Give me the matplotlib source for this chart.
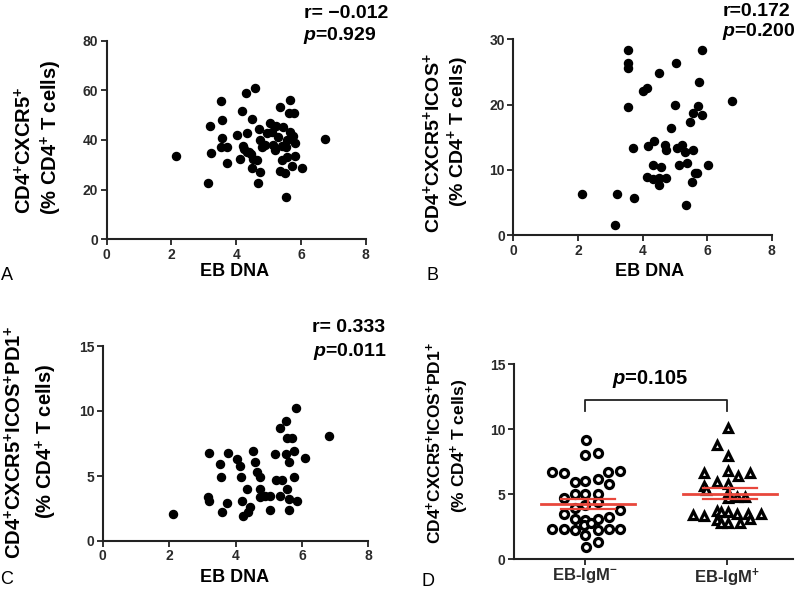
import numpy as np
import matplotlib as mpl
import matplotlib.pyplot as plt

# fonts: bold Arial-like everywhere, mathtext only used for the +/- superscripts and italic p
plt.rcParams['font.family'] = ['Liberation Sans', 'DejaVu Sans']
plt.rcParams['font.weight'] = 'bold'
plt.rcParams['mathtext.fontset'] = 'custom'
plt.rcParams['mathtext.rm'] = 'Liberation Sans:bold'
plt.rcParams['mathtext.bf'] = 'Liberation Sans:bold'
plt.rcParams['mathtext.it'] = 'Liberation Sans:italic:bold'

# ---- data ----
# panel A: CD4+CXCR5+ vs EB DNA
a_x = [2.13, 3.14, 3.19, 3.21, 3.52, 3.55, 3.55, 3.52, 3.72, 3.72, 4.02, 4.17, 4.31, 4.58,
       4.34, 4.20, 4.12, 4.33, 4.45, 4.50, 4.51, 4.49, 4.63, 4.66, 4.69, 4.72, 4.74, 4.79,
       4.94, 5.05, 5.10, 5.15, 5.20, 5.23, 5.30, 5.41, 5.46, 5.36, 5.34, 5.41, 5.51, 5.54,
       5.56, 5.58, 5.54, 5.67, 5.62, 5.80, 5.75, 5.82, 5.72, 5.82, 6.03, 6.75, 5.67, 4.90,
       4.25, 4.40]
a_y = [33.6, 22.6, 45.6, 34.9, 55.7, 48.1, 40.7, 37.3, 37.3, 30.6, 42.0, 51.8, 58.8, 60.8,
       43.0, 37.6, 32.2, 35.3, 34.4, 48.6, 32.2, 28.6, 31.9, 22.6, 44.3, 27.2, 40.0, 37.3,
       42.7, 47.0, 43.4, 38.0, 36.0, 45.6, 41.3, 37.6, 45.1, 53.4, 27.7, 31.9, 26.6, 17.2,
       33.3, 40.0, 37.3, 56.1, 50.7, 50.7, 41.6, 38.7, 29.5, 33.6, 28.6, 40.3, 43.4, 38.0,
       36.5, 35.0]

# panel B: CD4+CXCR5+ICOS+ vs EB DNA
b_x = [3.54, 3.54, 3.55, 5.83, 5.04, 4.52, 5.76, 4.02, 4.15, 3.54, 5.01, 6.76, 5.73, 5.55,
       5.83, 5.47, 4.88, 3.72, 4.18, 4.36, 4.70, 4.73, 5.06, 5.21, 5.32, 5.57, 5.13, 5.37,
       6.04, 4.32, 4.56, 4.15, 4.33, 4.52, 4.73, 4.51, 5.63, 5.70, 5.52, 5.35, 2.12, 3.20,
       3.74, 3.15]
b_y = [28.4, 26.3, 25.6, 28.4, 26.3, 24.8, 23.4, 22.1, 22.6, 19.7, 20.0, 20.5, 19.8, 18.7,
       18.4, 17.3, 16.4, 13.4, 13.7, 14.4, 13.8, 13.1, 13.3, 13.8, 12.8, 13.0, 10.8, 11.0,
       10.7, 10.7, 10.4, 9.0, 8.6, 8.7, 8.8, 7.7, 9.5, 9.6, 8.2, 4.7, 6.3, 6.3,
       5.7, 1.6]

# panel C: CD4+CXCR5+ICOS+PD1+ vs EB DNA
c_x = [2.12, 3.21, 3.18, 3.20, 3.54, 3.56, 3.59, 3.74, 3.76, 4.04, 4.14, 4.16, 4.19, 4.22,
       4.35, 4.37, 4.45, 4.53, 4.60, 4.65, 4.75, 4.75, 4.90, 5.05, 5.05, 5.20, 5.23, 5.35,
       5.40, 5.35, 5.53, 5.83, 5.69, 5.55, 5.53, 5.60, 5.75, 5.75, 5.55, 5.60, 5.60, 5.86,
       6.08, 6.82, 4.75]
c_y = [2.1, 6.8, 3.4, 3.1, 5.9, 4.9, 2.2, 2.9, 6.8, 6.3, 5.8, 4.9, 3.1, 1.9,
       4.0, 2.2, 2.6, 6.9, 6.1, 5.3, 4.9, 3.4, 3.5, 2.4, 3.5, 6.7, 4.7, 3.5,
       4.7, 8.7, 9.2, 10.2, 7.9, 7.9, 6.7, 6.1, 4.9, 6.9, 4.0, 3.2, 2.4, 3.1,
       6.4, 8.1, 4.0]

# panel D: EB-IgM- / EB-IgM+ groups
groups = ['EB-IgM$^{-}$', 'EB-IgM$^{+}$']
igm_neg = [9.2, 8.0, 8.15, 6.7, 6.6, 6.7, 6.8, 5.95, 6.0, 6.2, 5.75, 5.0, 5.0, 5.0, 4.7,
           4.2, 3.95, 4.4, 3.5, 3.75, 3.1, 3.0, 3.1, 3.25, 2.35, 2.3, 2.25, 2.6, 2.75, 2.25,
           2.3, 2.3, 1.85, 1.35, 0.95]
igm_neg_dx = [0.01, 0.0, 0.09, -0.23, -0.15, 0.16, 0.25, -0.07, 0.0, 0.09, 0.17, -0.07, 0.0,
              0.09, -0.15, 0.0, -0.07, 0.09, -0.15, 0.25, -0.07, 0.0, 0.09, 0.17, -0.23, -0.15,
              -0.07, -0.01, 0.04, 0.09, 0.17, 0.25, 0.0, 0.09, 0.01]
igm_pos = [10.1, 8.8, 7.9, 6.6, 6.8, 6.6, 5.9, 5.8, 6.4, 5.6, 5.3, 5.1, 4.8, 4.8, 4.7,
           3.4, 3.3, 3.7, 3.6, 3.6, 3.5, 3.5, 3.5, 3.0, 2.8, 2.8, 3.1, 2.8]
igm_pos_dx = [0.01, -0.07, 0.01, -0.16, 0.01, 0.16, -0.07, 0.01, 0.08, -0.16, -0.15, 0.01,
              0.07, 0.13, 0.01, -0.24, -0.16, -0.07, -0.04, 0.01, 0.07, 0.15, 0.24, -0.07,
              0.01, 0.09, 0.16, -0.04]
group_mean = [4.28, 5.03]
group_sem = [0.38, 0.41]

W, H = 800, 589
fig = plt.figure(figsize=(8, 5.89), dpi=100)


def px_axes(x0, x1, y_top, y_bot):
    return fig.add_axes([x0 / W, 1 - y_bot / H, (x1 - x0) / W, (y_bot - y_top) / H])


def style(ax):
    for s in ['top', 'right']:
        ax.spines[s].set_visible(False)
    for s in ['left', 'bottom']:
        ax.spines[s].set_linewidth(1.5)
        ax.spines[s].set_color('#222222')
    ax.tick_params(direction='out', length=4, width=1.3, color='#222222',
                   labelsize=10, pad=2, labelcolor='#2a2a2a')


def ftext(x, y, s, **kw):
    fig.text(x / W, 1 - y / H, s, **kw)


def scatter_panel(ax, x, y, ymax, ystep):
    ax.plot(x, y, 'o', color='black', markersize=5.8, clip_on=False)
    ax.set_xlim(0, 8)
    ax.set_ylim(0, ymax)
    ax.set_xticks([0, 2, 4, 6, 8])
    ax.set_yticks(np.arange(0, ymax + 1, ystep))
    style(ax)


axA = px_axes(106.7, 365.7, 40.7, 239.3)
scatter_panel(axA, a_x, a_y, 80, 20)
axB = px_axes(513.3, 771.7, 39.3, 235.3)
scatter_panel(axB, b_x, b_y, 30, 10)
axC = px_axes(102.7, 368.3, 346, 541)
scatter_panel(axC, c_x, c_y, 15, 5)

# panel D
axD = px_axes(513.7, 793, 364, 559.3)
axD.plot(np.array(igm_neg_dx), igm_neg, 'o', ms=5.8, mfc='white', mec='black', mew=2.3,
         clip_on=False, zorder=3)
axD.plot(1 + np.array(igm_pos_dx), igm_pos, '^', ms=6.2, mfc='white', mec='black', mew=2.3,
         clip_on=False, zorder=3)
red = '#e8473c'
for i in range(2):
    c = i + 0.02
    m, s = group_mean[i], group_sem[i]
    axD.plot([c - 0.33, c + 0.33], [m, m], color=red, lw=2.0, zorder=4)
    axD.plot([c, c], [m - s, m + s], color=red, lw=1.6, zorder=4)
    axD.plot([c - 0.19, c + 0.19], [m + s, m + s], color=red, lw=1.6, zorder=4)
    axD.plot([c - 0.19, c + 0.19], [m - s, m - s], color=red, lw=1.6, zorder=4)
# significance bracket
axD.plot([0, 0, 1, 1], [11.4, 12.2, 12.2, 11.4], color='#222222', lw=1.3, clip_on=False)
axD.set_xlim(-0.502, 1.465)
axD.set_ylim(0, 15)
axD.set_xticks([0, 1])
axD.set_xticklabels(groups)
axD.set_yticks([0, 5, 10, 15])
style(axD)
axD.tick_params(axis='x', labelsize=12, pad=1)

# x labels
for x, y in [(235, 271), (650, 271), (235, 578)]:
    ftext(x, y, 'EB DNA', ha='center', va='center', fontsize=13)

# r / p annotations
ftext(304, 13, 'r= \u22120.012', ha='left', va='center', fontsize=14)
ftext(303, 35, '$p$=0.929', ha='left', va='center', fontsize=14)
ftext(723, 12, 'r=0.172', ha='left', va='center', fontsize=14)
ftext(722, 32, '$p$=0.200', ha='left', va='center', fontsize=14)
ftext(312, 327, 'r= 0.333', ha='left', va='center', fontsize=14)
ftext(313, 352, '$p$=0.011', ha='left', va='center', fontsize=14)
ftext(650, 379, '$p$=0.105', ha='center', va='center', fontsize=14.5)

# y labels (two lines each)
ylab = dict(rotation=90, ha='center', va='center')
ftext(25, 150, 'CD4$^{+}$CXCR5$^{+}$', fontsize=14.5, **ylab)
ftext(51, 137, '(% CD4$^{+}$ T cells)', fontsize=14.5, **ylab)
ftext(432, 143, 'CD4$^{+}$CXCR5$^{+}$ICOS$^{+}$', fontsize=14, **ylab)
ftext(458, 132, '(% CD4$^{+}$ T cells)', fontsize=14, **ylab)
ftext(15, 442, 'CD4$^{+}$CXCR5$^{+}$ICOS$^{+}$PD1$^{+}$', fontsize=14.5, **ylab)
ftext(46, 441, '(% CD4$^{+}$ T cells)', fontsize=14.5, **ylab)
ftext(434, 443, 'CD4$^{+}$CXCR5$^{+}$ICOS$^{+}$PD1$^{+}$', fontsize=12.5, **ylab)
ftext(460, 446, '(% CD4$^{+}$ T cells)', fontsize=12.5, **ylab)

# panel letters
for x, y, s in [(7, 275, 'A'), (433, 275, 'B'), (7, 580, 'C'), (428, 582, 'D')]:
    ftext(x, y, s, ha='center', va='center', fontsize=13, fontweight='normal')

fig.savefig('out.png', dpi=100)
